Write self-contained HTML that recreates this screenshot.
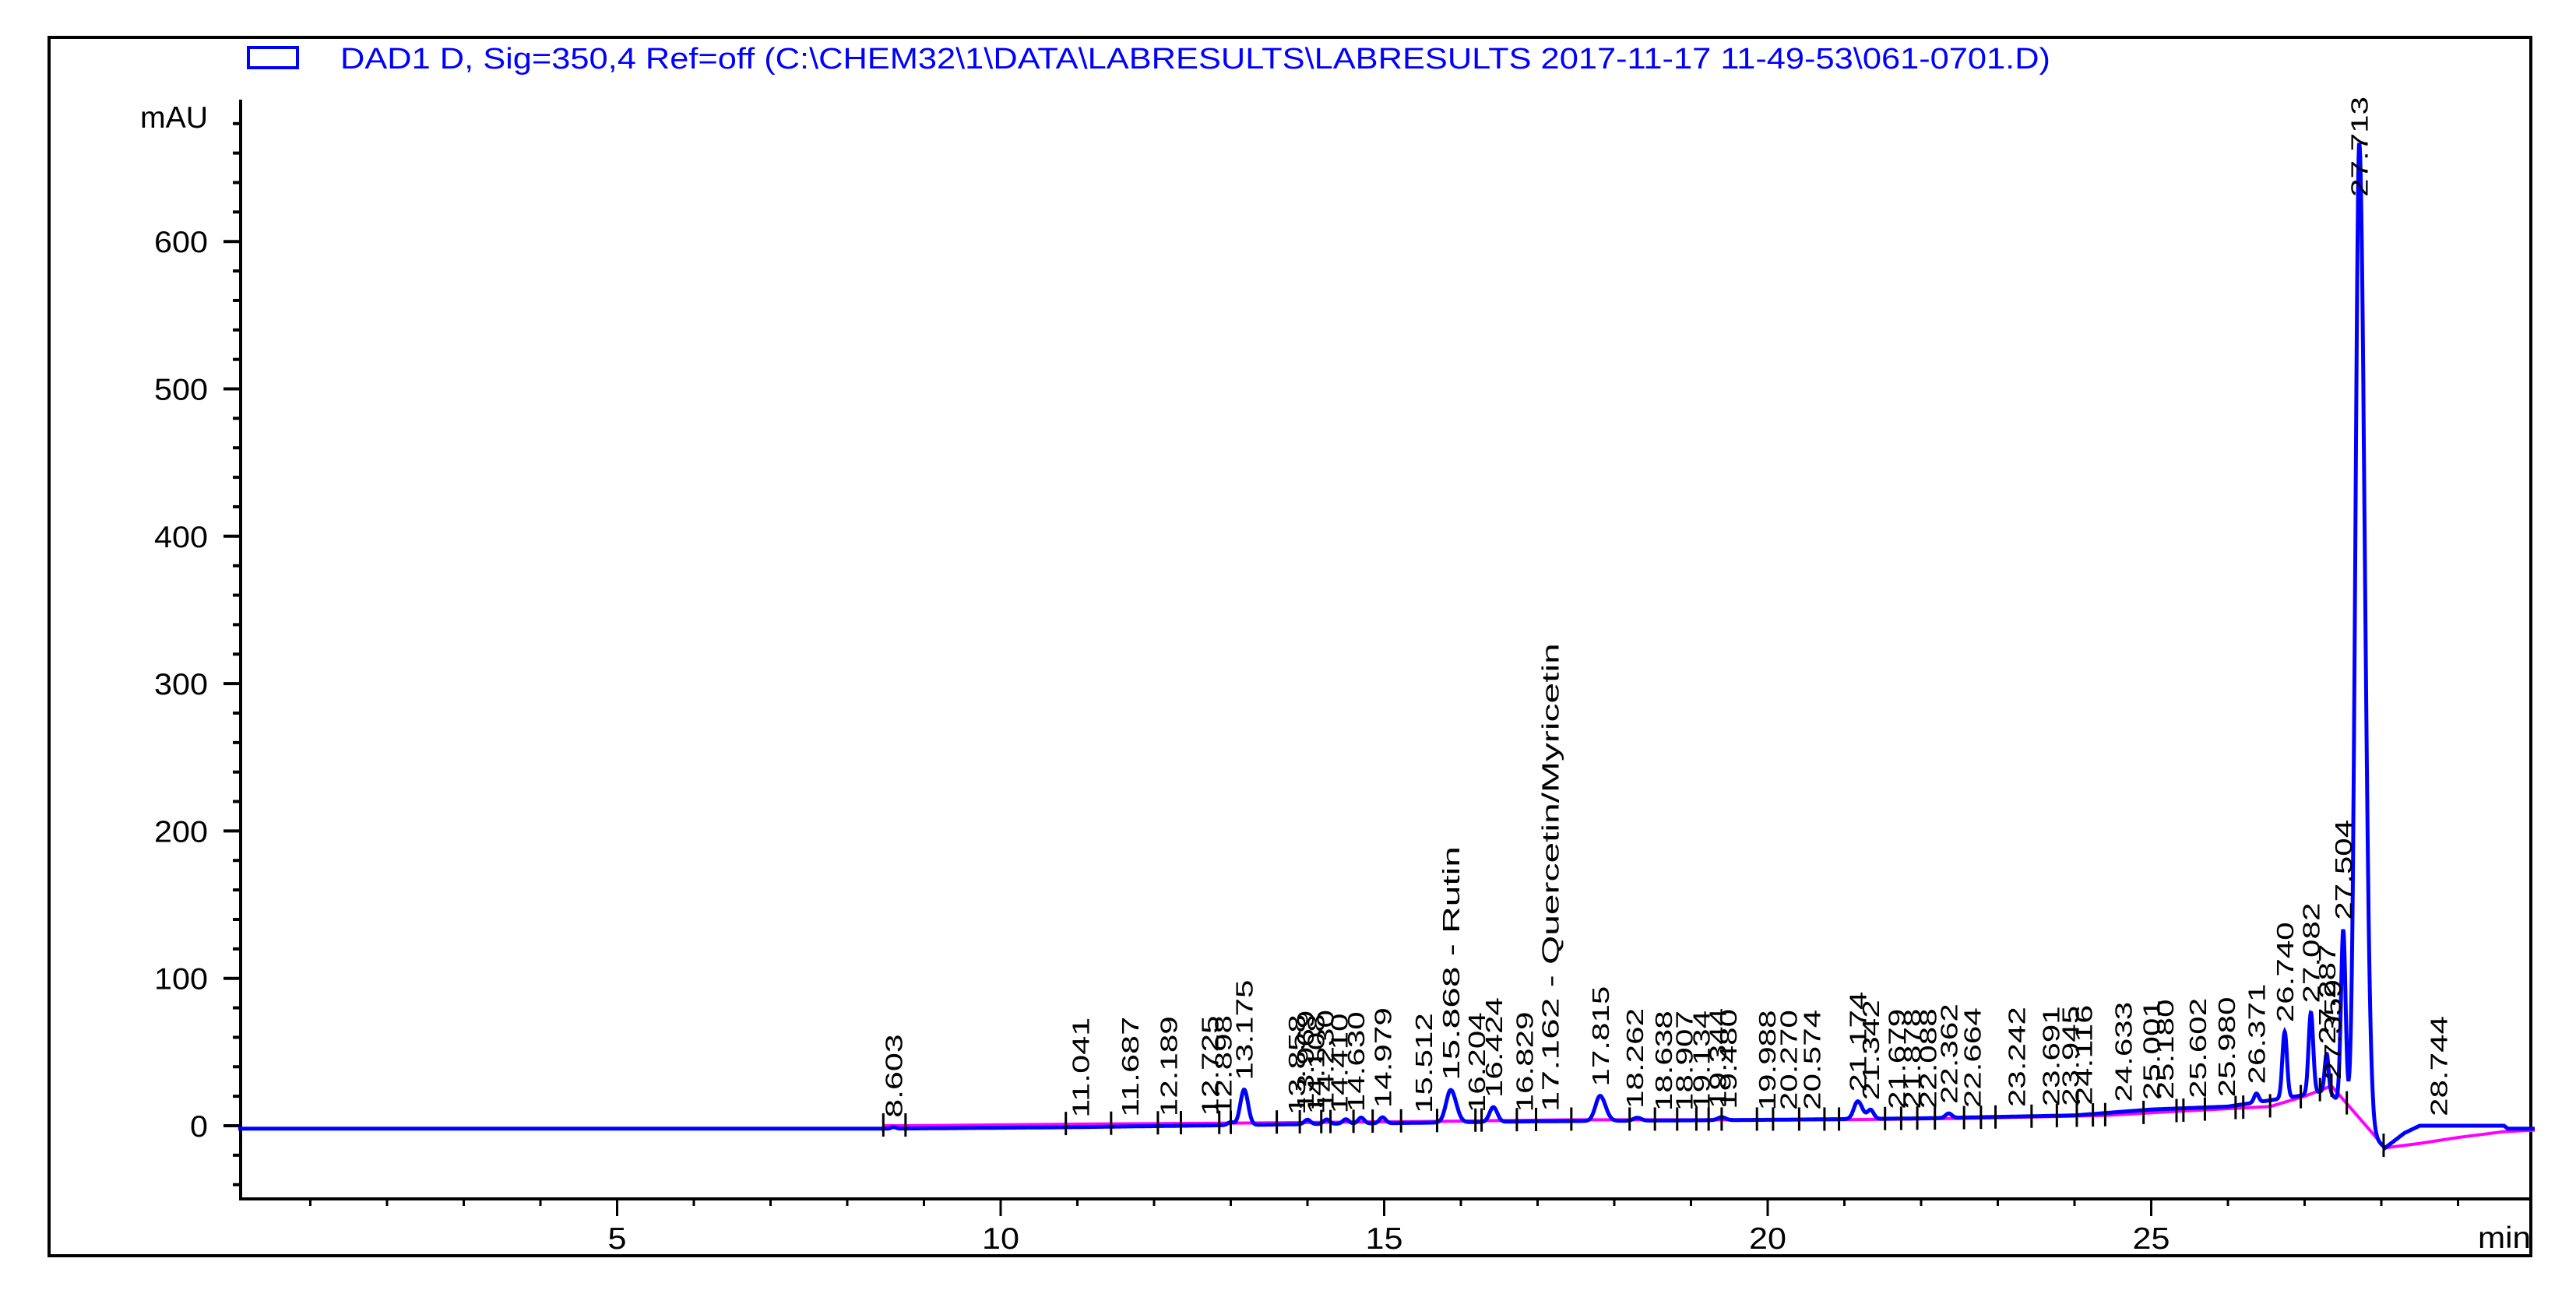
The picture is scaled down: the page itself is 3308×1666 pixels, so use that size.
<!DOCTYPE html>
<html><head><meta charset="utf-8"><style>
html,body{margin:0;padding:0;background:#fff;}
svg{display:block;}
text{font-family:"Liberation Sans",sans-serif;}
</style></head><body>
<svg id="chart" width="3308" height="1666" viewBox="0 0 3308 1666" xmlns="http://www.w3.org/2000/svg">
<rect x="63" y="48" width="3187" height="1565" fill="#fff" stroke="#000" stroke-width="4"/>
<rect x="319" y="61" width="63" height="26" fill="none" stroke="#0000ff" stroke-width="4"/>
<text x="437" y="88" font-size="38" fill="#0000ff" textLength="2196" lengthAdjust="spacingAndGlyphs">DAD1 D, Sig=350,4 Ref=off (C:\CHEM32\1\DATA\LABRESULTS\LABRESULTS 2017-11-17 11-49-53\061-0701.D)</text>
<text x="267" y="164" font-size="39" text-anchor="end" textLength="87" lengthAdjust="spacingAndGlyphs">mAU</text>
<text x="3182" y="1603" font-size="39" textLength="68" lengthAdjust="spacingAndGlyphs">min</text>
<g id="g-axes"></g>
<g id="g-base"></g>
<g id="g-sig"></g>
<g id="g-marks"></g>
<g id="g-labels"></g>
</svg>
<script>
// ---- data ----
const yTicks = [0,100,200,300,400,500,600];
const xTicks = [5,10,15,20,25];
const peakRt = [8.603,13.175,13.0,14.0,14.25,14.5,14.7,14.979,15.868,16.424,17.815,18.3,19.4,21.174,21.342,22.36,26.371,26.740,27.082,27.287,27.504,27.713];
const peakHeight = [1,24,2,3,3,3,4,4,22,10,17,2,2,12,6,3,6,45,55,25,120,665];
const peakWidthL = [0.03,0.05,0.04,0.04,0.04,0.04,0.04,0.04,0.06,0.05,0.06,0.05,0.05,0.05,0.04,0.04,0.03,0.03,0.03,0.025,0.03,0.05];
const peakWidthR = [0.03,0.05,0.04,0.04,0.04,0.04,0.04,0.04,0.07,0.05,0.07,0.05,0.05,0.06,0.04,0.04,0.03,0.03,0.03,0.025,0.03,0.07];
const sigBaseT = [0.06,8.5,10.9,13.9,17,20,22,24,25,26,26.9,27.3,27.9,28.05,28.3,28.5,29.6,29.65,30];
const sigBaseV = [-2,-2,-1,1,3,4,5,7,11,13,20,24,-8,-15,-5,0,0,-2,-2];
const blT = [8.47,8.76,10.85,13.6,15.69,17.44,20.9,22.6,24.4,25.4,26.55,27.0,27.35,28.05,28.5,29.0,29.6,30];
const blV = [0,0,1,2,3,4,4,5,7,10,13,20,27,-15,-12,-8,-4,-3];
const markerT = [8.47,8.76,10.85,11.44,12.05,12.35,12.85,13.0,13.6,13.9,14.18,14.3,14.6,14.85,15.22,15.69,16.19,16.27,16.73,16.98,17.44,18.2,18.53,18.82,19.07,19.23,19.4,19.86,20.07,20.41,20.74,20.93,21.53,21.74,21.95,22.18,22.56,22.78,22.97,23.44,23.77,24.03,24.24,24.4,24.9,25.33,25.42,25.7,26.1,26.2,26.55,26.95,27.2,27.35,27.55,28.03];
const labelT = [8.603,11.041,11.687,12.189,12.725,12.898,13.175,13.858,13.969,14.108,14.230,14.410,14.630,14.979,15.512,15.868,16.204,16.424,16.829,17.162,17.815,18.262,18.638,18.907,19.134,19.344,19.480,19.988,20.270,20.574,21.174,21.342,21.679,21.878,22.088,22.362,22.664,23.242,23.691,23.945,24.116,24.633,25.001,25.180,25.602,25.980,26.371,26.740,27.082,27.287,27.359,27.504,27.713,28.744];
const labelSuffix = {"15.868":" - Rutin","17.162":" - Quercetin/Myricetin"};

// ---- scales ----
const X0=300, PX_MIN=98.5, Y0=1446, PX_MAU=1.893;
const xs = t => X0 + t*PX_MIN;
const ys = v => Y0 - v*PX_MAU;
const NS='http://www.w3.org/2000/svg';
function mk(tag, parent){ const e=document.createElementNS(NS,tag); parent.appendChild(e); return e; }
function interp(T,V,t){ if(t<=T[0]) return V[0]; for(let i=1;i<T.length;i++){ if(t<=T[i]) return V[i-1]+(V[i]-V[i-1])*(t-T[i-1])/(T[i]-T[i-1]); } return V[V.length-1]; }
function signal(t){ let v=interp(sigBaseT,sigBaseV,t); for(let i=0;i<peakRt.length;i++){ const w=t<peakRt[i]?peakWidthL[i]:peakWidthR[i]; const d=(t-peakRt[i])/w; v+=peakHeight[i]*Math.exp(-0.5*d*d);} return v; }

// ---- axes ----
const gA=document.getElementById('g-axes');
const yAxis=mk('line',gA);


yAxis.setAttribute('x1',309);yAxis.setAttribute('x2',309);yAxis.setAttribute('y1',128);yAxis.setAttribute('y2',1542);yAxis.setAttribute('stroke','#000');yAxis.setAttribute('stroke-width',4);
const xAxis=mk('line',gA);


xAxis.setAttribute('x1',307);xAxis.setAttribute('x2',3250);xAxis.setAttribute('y1',1540);xAxis.setAttribute('y2',1540);xAxis.setAttribute('stroke','#000');xAxis.setAttribute('stroke-width',4);
for(let v=-40; v<=680; v+=20){
  const major = yTicks.indexOf(v)>=0;
  const l=mk('line',gA);
  
  
  l.setAttribute('x1',major?287:299);l.setAttribute('x2',309);l.setAttribute('y1',ys(v));l.setAttribute('y2',ys(v));l.setAttribute('stroke','#000');l.setAttribute('stroke-width',4);
}
yTicks.forEach(v=>{
  const t=mk('text',gA);
  
  
  t.setAttribute('x',267);t.setAttribute('y',ys(v)+14);t.setAttribute('font-size',39);t.setAttribute('text-anchor','end');
  t.setAttribute('textLength',String(v).length*23);t.setAttribute('lengthAdjust','spacingAndGlyphs');
  t.textContent=v;
});
for(let m=1;m<=29;m++){
  const major = xTicks.indexOf(m)>=0;
  const l=mk('line',gA);
  
  
  l.setAttribute('x1',xs(m));l.setAttribute('x2',xs(m));l.setAttribute('y1',1540);l.setAttribute('y2',major?1562:1549);l.setAttribute('stroke','#000');l.setAttribute('stroke-width',3);
}
xTicks.forEach(m=>{
  const t=mk('text',gA);
  
  
  t.setAttribute('x',xs(m));t.setAttribute('y',1604);t.setAttribute('font-size',39);t.setAttribute('text-anchor','middle');
  t.setAttribute('textLength',String(m).length*24);t.setAttribute('lengthAdjust','spacingAndGlyphs');
  t.textContent=m;
});

// ---- baseline (magenta) ----
const gB=document.getElementById('g-base');
const bl=mk('polyline',gB);


bl.setAttribute('points',blT.map((t,i)=>xs(t)+','+ys(blV[i])).join(' '));
bl.setAttribute('fill','none');bl.setAttribute('stroke','#ff00ff');bl.setAttribute('stroke-width',4);

// ---- signal (blue) ----
const gS=document.getElementById('g-sig');
const pts=[];
for(let t=0.06;t<=30.0001;t+=0.005){ pts.push(xs(t).toFixed(1)+','+ys(signal(t)).toFixed(1)); }
const sig=mk('polyline',gS);


sig.setAttribute('points',pts.join(' '));
sig.setAttribute('fill','none');sig.setAttribute('stroke','#0000ff');sig.setAttribute('stroke-width',5);sig.setAttribute('stroke-linejoin','miter');

// ---- markers ----
const gM=document.getElementById('g-marks');
markerT.forEach(t=>{
  const b=ys(interp(blT,blV,t));
  const l=mk('line',gM);
  
  
  l.setAttribute('x1',xs(t));l.setAttribute('x2',xs(t));l.setAttribute('y1',b-16);l.setAttribute('y2',b+14);l.setAttribute('stroke','#000');l.setAttribute('stroke-width',3);
});

// ---- labels ----
const gL=document.getElementById('g-labels');
labelT.forEach(t=>{
  const key=t.toFixed(3);
  const str=key+(labelSuffix[key]||'');
  let top=Infinity;
  for(let u=t-0.02;u<=t+0.02;u+=0.005){ top=Math.min(top, ys(signal(u))); }
  const bottom=Math.max(Math.min(top-12, 1436), 253);
  const x=xs(t)+11;
  const tx=mk('text',gL);
  
  
  tx.setAttribute('x',0);tx.setAttribute('y',0);
  tx.setAttribute('transform','translate('+x+','+bottom+') rotate(-90)');
  tx.setAttribute('font-size',31);
  tx.setAttribute('textLength',str.length*21.5);tx.setAttribute('lengthAdjust','spacingAndGlyphs');
  tx.textContent=str;
});
</script>
</body></html>
